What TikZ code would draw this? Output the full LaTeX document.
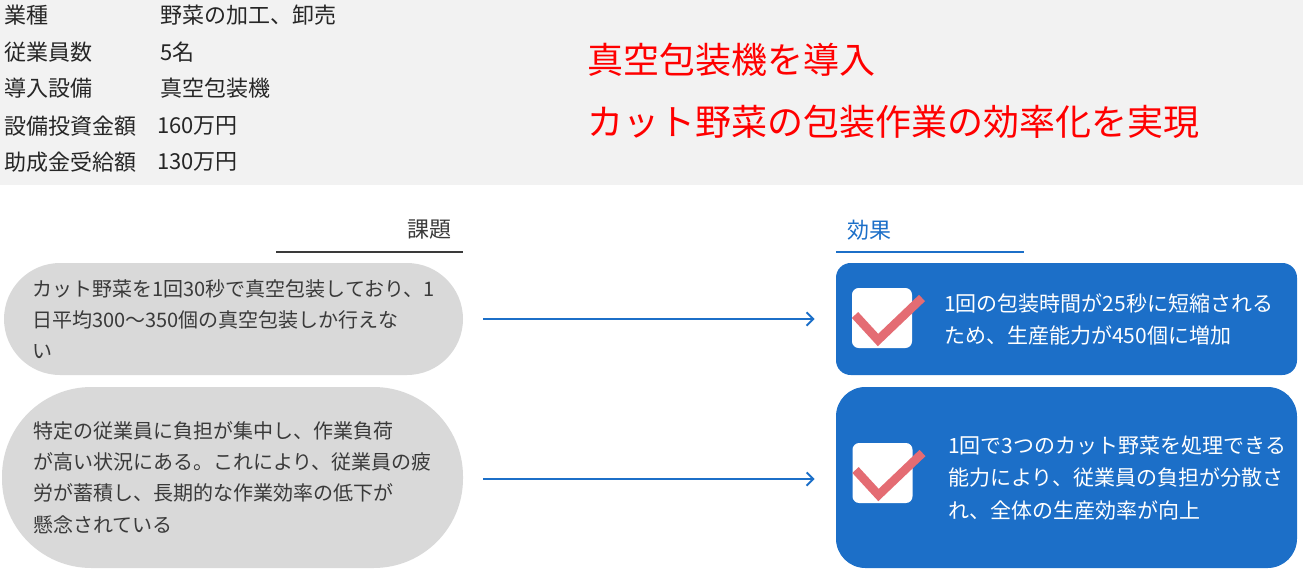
\documentclass[tikz,border=0pt]{standalone}
\usepackage{fontspec}
\setmainfont{Noto Sans CJK JP}
\usepackage{tikz}
\usetikzlibrary{arrows.meta, positioning, calc}

\definecolor{bandgray}{HTML}{F2F2F2}
\definecolor{issuegray}{HTML}{D9D9D9}
\definecolor{effblue}{HTML}{1C6FC8}
\definecolor{checkred}{HTML}{E46C73}
\definecolor{darktext}{HTML}{262626}
\definecolor{issuetext}{HTML}{3A3A3A}

\begin{document}
\begin{tikzpicture}[x=0.75pt, y=-0.75pt, >={Straight Barb[length=5pt,width=10pt]},
    info/.style={anchor=west, inner sep=0pt, text=darktext, font=\fontsize{16.5}{20}\selectfont},
    title/.style={anchor=west, inner sep=0pt, text=red, font=\fontsize{27}{32}\selectfont},
    issue/.style={fill=issuegray, text=issuetext, align=left, inner sep=0pt, font=\fontsize{15}{23.5}\selectfont},
    effect/.style={fill=effblue, minimum width=345.75pt, inner sep=0pt},
    efftext/.style={anchor=west, inner sep=0pt, text=white, align=left, font=\fontsize{15.75}{24.5}\selectfont},
    checkbox/.style={fill=white, rounded corners=5pt, minimum size=45pt, inner sep=0pt},
    check/.style={draw=checkred, line width=6.5pt},
    header/.style={inner sep=0pt, font=\fontsize{16.5}{20}\selectfont},
    flow/.style={->, draw=effblue, line width=1.5pt}]

    \useasboundingbox (0,0) rectangle (1303,578);
    \fill[bandgray] (0,0) rectangle (1303,185);

    % overview
    \node[info] (k1) at (4,15) {業種};
    \node[info] (k2) at (4,52) {従業員数};
    \node[info] (k3) at (4,88) {導入設備};
    \node[info] (k4) at (4,126) {設備投資金額};
    \node[info] (k5) at (4,162) {助成金受給額};
    \node[info] (v1) at (160,15) {野菜の加工、卸売};
    \node[info] (v2) at (160,52) {5名};
    \node[info] (v3) at (160,88) {真空包装機};
    \node[info] (v4) at (157,126) {160万円};
    \node[info] (v5) at (157,162) {130万円};

    \node[title] (t1) at (587,60) {真空包装機を導入};
    \node[title] (t2) at (587,122) {カット野菜の包装作業の効率化を実現};

    % headers
    \node[header, text=issuetext] (hissue) at (429.5,230) {課題};
    \node[header, text=effblue] (heffect) at (869.5,230) {効果};
    \draw[issuetext, line width=1.5pt] (276,252) -- (463,252);
    \draw[effblue, line width=1.5pt] (836,252) -- (1024,252);

    % issues
    \node[issue, minimum width=344.25pt, minimum height=84pt, rounded corners=42pt] (i1) at (233.5,319)
        {カット野菜を1回30秒で真空包装しており、1\\日平均300～350個の真空包装しか行えな\\い};
    \node[issue, minimum width=345.75pt, minimum height=135.75pt, rounded corners=67pt] (i2) at (232.5,477.5)
        {特定の従業員に負担が集中し、作業負荷\\が高い状況にある。これにより、従業員の疲\\労が蓄積し、長期的な作業効率の低下が\\懸念されている};

    % effects
    \node[effect, minimum height=84pt, rounded corners=11pt] (e1) at (1066.5,319) {};
    \node[effect, minimum height=135.75pt, rounded corners=22pt] (e2) at (1066.5,477.5) {};
    \node[checkbox] (c1) at (882,318) {};
    \node[checkbox] (c2) at (882.5,473) {};
    \foreach \c in {c1,c2}
        \draw[check] ($(\c)+(-27,-3)$) -- ($(\c)+(-4,22)$) -- ($(\c)+(40,-20)$);
    \node[efftext] (et1) at (944,319.5) {1回の包装時間が25秒に短縮される\\ため、生産能力が450個に増加};
    \node[efftext] (et2) at (948,478) {1回で3つのカット野菜を処理できる\\能力により、従業員の負担が分散さ\\れ、全体の生産効率が向上};

    \draw[flow, shorten <=15pt, shorten >=15.75pt] (i1) -- (e1);
    \draw[flow, shorten <=15pt, shorten >=15.75pt] (i2.east |- 0,479) -- (e2.west |- 0,479);
\end{tikzpicture}
\end{document}
